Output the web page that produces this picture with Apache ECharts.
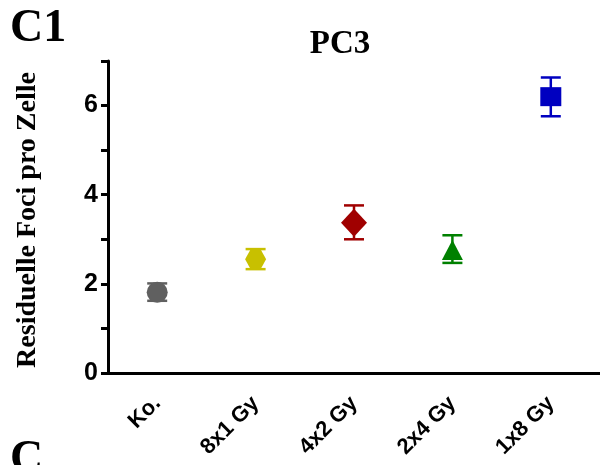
<!DOCTYPE html>
<html><head><meta charset="utf-8">
<script src="https://cdn.jsdelivr.net/npm/echarts@6/dist/echarts.min.js"></script>
<style>html,body{margin:0;padding:0;background:#fff}#c{width:600px;height:465px}</style>
</head><body><div id="c"></div>
<script>
const categories = ['Ko.', '8x1 Gy', '4x2 Gy', '2x4 Gy', '1x8 Gy'];
const means = [1.81, 2.55, 3.37, 2.76, 6.2];
const errLow = [1.62, 2.33, 3.0, 2.47, 5.76];
const errHigh = [2.01, 2.78, 3.76, 3.09, 6.63];
const colors = ['#606060', '#c8c000', '#a00000', '#008000', '#0000c0'];
const hexPath = 'path://M-1,0 L-0.5,-0.866 L0.5,-0.866 L1,0 L0.5,0.866 L-0.5,0.866 Z';
const symbols = ['circle', hexPath, 'diamond', 'triangle', 'rect'];
const sizes = [[21,21],[21,19],[26,28],[21,20],[21,19]];

const chart = echarts.init(document.getElementById('c'), null, {renderer:'canvas'});
const scatterSeries = categories.map((c, i) => ({
  type: 'scatter',
  data: [[i, means[i]]],
  symbol: symbols[i],
  symbolSize: sizes[i],
  itemStyle: {color: colors[i], opacity: 1},
  z: 3,
  silent: true
}));
chart.setOption({
  animation: false,
  grid: {left: 108, right: 0, top: 61, bottom: 92, containLabel: false},
  graphic: [
    {type: 'text', left: 10, top: 6, style: {text: 'C1', font: 'bold 46px "Liberation Serif"', fill: '#000'}},
    {type: 'text', left: 10, top: 437, style: {text: 'C', font: 'bold 46px "Liberation Serif"', fill: '#000'}},
    {type: 'text', x: 340, y: 44, style: {text: 'PC3', font: 'bold 33px "Liberation Serif"', fill: '#000',
        align: 'center', verticalAlign: 'middle'}},
    {type: 'text', x: 28, y: 220, rotation: Math.PI/2,
      style: {text: 'Residuelle Foci pro Zelle', font: 'bold 28px "Liberation Serif"', fill: '#000',
        align: 'center', verticalAlign: 'middle'}}
  ],
  xAxis: {
    type: 'category', data: categories, boundaryGap: true,
    axisLine: {lineStyle: {color: '#000', width: 3}},
    axisTick: {alignWithLabel: true, length: 8, lineStyle: {color: '#000', width: 3}},
    axisLabel: {rotate: 45, margin: 27, color: '#000', fontFamily: 'Liberation Sans', fontWeight: 'bold', fontSize: 22},
    splitLine: {show: false}
  },
  yAxis: {
    type: 'value', min: 0, max: 7, interval: 1,
    axisLine: {show: true, lineStyle: {color: '#000', width: 3}},
    axisTick: {show: true, length: 7, lineStyle: {color: '#000', width: 3}},
    axisLabel: {color: '#000', fontFamily: 'Liberation Sans', fontWeight: 'bold', fontSize: 25, margin: 10,
      formatter: v => (v % 2 === 0 ? String(v) : '')},
    splitLine: {show: false}
  },
  series: [
    {
      type: 'custom',
      silent: true,
      z: 2,
      data: categories.map((c, i) => [i, errLow[i], errHigh[i]]),
      renderItem: function (params, api) {
        const i = api.value(0);
        const lo = api.coord([i, api.value(1)]);
        const hi = api.coord([i, api.value(2)]);
        const hw = 10;
        const col = colors[params.dataIndex];
        const st = {stroke: col, lineWidth: 2.5};
        return {type: 'group', children: [
          {type: 'line', shape: {x1: lo[0], y1: lo[1], x2: hi[0], y2: hi[1]}, style: st},
          {type: 'line', shape: {x1: lo[0]-hw, y1: lo[1], x2: lo[0]+hw, y2: lo[1]}, style: st},
          {type: 'line', shape: {x1: hi[0]-hw, y1: hi[1], x2: hi[0]+hw, y2: hi[1]}, style: st}
        ]};
      }
    },
    ...scatterSeries
  ]
});
</script></body></html>
